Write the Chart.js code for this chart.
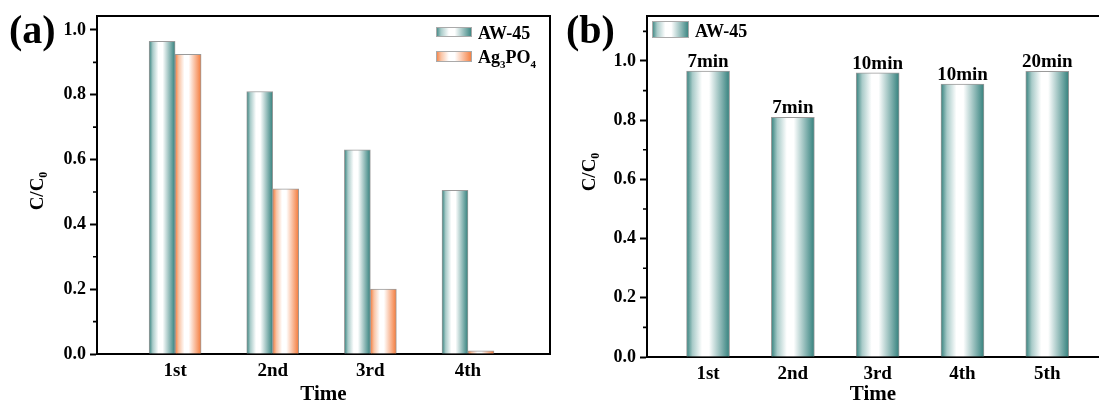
<!DOCTYPE html>
<html><head><meta charset="utf-8">
<script src="https://cdn.jsdelivr.net/npm/chart.js@4/dist/chart.umd.min.js"></script>
<style>
html,body{margin:0;padding:0;background:#fff;width:1099px;height:405px;overflow:hidden;}
#wa{position:absolute;left:0;top:0;width:560px;height:405px;}
#wb{position:absolute;left:560px;top:0;width:539px;height:405px;}
.pl{position:absolute;font:bold 40px "Liberation Serif","Times New Roman",serif;line-height:40px;color:#000;}
</style></head><body>
<div id="wa"><canvas id="ca"></canvas></div>
<div id="wb"><canvas id="cb"></canvas></div>
<div class="pl" style="left:9px;top:10px">(a)</div>
<div class="pl" style="left:566px;top:10px">(b)</div>
<script>
// ---- data ----
const catA = ['1st', '2nd', '3rd', '4th'];
const aw45A = [0.965, 0.81, 0.63, 0.505];
const agpoA = [0.925, 0.51, 0.20, 0.01];
const catB = ['1st', '2nd', '3rd', '4th', '5th'];
const aw45B = [0.966, 0.81, 0.96, 0.922, 0.965];
const timeB = ['7min', '7min', '10min', '10min', '20min'];
const yTicksA = [0, 0.2, 0.4, 0.6, 0.8, 1.0];
const yMinorA = [0.1, 0.3, 0.5, 0.7, 0.9];
const yTicksB = [0, 0.2, 0.4, 0.6, 0.8, 1.0];
const yMinorB = [0.1, 0.3, 0.5, 0.7, 0.9, 1.1];

const FONT = '"Liberation Serif","Times New Roman",serif';
const TEAL = '#34817d';
const TEAL_MID = '#a9cbc9';
const ORANGE = '#f47a3a';
const ORANGE_MID = '#f9c3a3';

function makeGrad(ctx, l, r, c, m) {
  const g = ctx.createLinearGradient(l, 0, r, 0);
  g.addColorStop(0, c);
  g.addColorStop(0.14, m);
  g.addColorStop(0.36, '#ffffff');
  g.addColorStop(0.52, '#ffffff');
  g.addColorStop(1, c);
  return g;
}

const gradPlugin = {
  id: 'grad',
  beforeDatasetsDraw(chart) {
    const ctx = chart.ctx;
    chart.data.datasets.forEach((ds, i) => {
      chart.getDatasetMeta(i).data.forEach(el => {
        const g = makeGrad(ctx, el.x - el.width / 2, el.x + el.width / 2, ds.edgeColor, ds.midColor);
        el.options = Object.assign({}, el.options, {backgroundColor: g});
      });
    });
  }
};

const decorPlugin = {
  id: 'decor',
  afterDraw(chart, args, o) {
    const ctx = chart.ctx, ca = chart.chartArea, ys = chart.scales.y;
    ctx.save();
    ctx.strokeStyle = '#000';
    ctx.lineWidth = 2;
    // frame
    ctx.beginPath();
    ctx.moveTo(ca.left, ca.top); ctx.lineTo(ca.right + (o.right ? 1 : 0), ca.top);
    if (o.right) { ctx.moveTo(ca.right, ca.top); ctx.lineTo(ca.right, ca.bottom); }
    ctx.stroke();
    // minor ticks
    ctx.lineWidth = 1.6;
    ctx.beginPath();
    o.minor.forEach(v => {
      const y = ys.getPixelForValue(v);
      ctx.moveTo(ca.left - 4, y); ctx.lineTo(ca.left, y);
    });
    ctx.stroke();
    // y title with subscript
    ctx.fillStyle = '#000';
    ctx.translate(o.ytX, o.ytY);
    ctx.rotate(-Math.PI / 2);
    ctx.textBaseline = 'middle';
    ctx.font = 'bold 19px ' + FONT;
    const w1 = ctx.measureText('C/C').width;
    ctx.font = 'bold 12px ' + FONT;
    const w2 = ctx.measureText('0').width;
    let x = -(w1 + w2) / 2;
    ctx.font = 'bold 19px ' + FONT;
    ctx.fillText('C/C', x, 0);
    ctx.font = 'bold 12px ' + FONT;
    ctx.fillText('0', x + w1, 6);
    ctx.restore();
    // legend
    ctx.save();
    o.legend.forEach(it => {
      ctx.fillStyle = makeGrad(ctx, it.x, it.x + it.w, it.color, it.mid);
      ctx.fillRect(it.x, it.y, it.w, it.h);
      ctx.strokeStyle = '#aaa';
      ctx.lineWidth = 1;
      ctx.strokeRect(it.x + 0.5, it.y + 0.5, it.w - 1, it.h - 1);
      ctx.fillStyle = '#000';
      ctx.textBaseline = 'alphabetic';
      let tx = it.tx;
      it.parts.forEach(p => {
        ctx.font = 'bold ' + (p.sub ? 11 : 18) + 'px ' + FONT;
        ctx.fillText(p.t, tx, it.ty + (p.sub ? 5 : 0));
        tx += ctx.measureText(p.t).width;
      });
    });
    ctx.restore();
    // value labels
    if (o.labels) {
      ctx.save();
      ctx.fillStyle = '#000';
      ctx.font = 'bold 19px ' + FONT;
      ctx.textAlign = 'center';
      ctx.textBaseline = 'alphabetic';
      chart.getDatasetMeta(0).data.forEach((el, i) => {
        ctx.fillText(o.labels[i], el.x, el.y - 4);
      });
      ctx.restore();
    }
  }
};

function makeChart(id, cats, datasets, cfg) {
  return new Chart(document.getElementById(id), {
    type: 'bar',
    data: {datasets: datasets.map(d => ({
      label: d.label,
      data: d.values.map((v, i) => ({x: i + 1, y: v})),
      edgeColor: d.color,
      midColor: d.mid,
      backgroundColor: d.color,
      borderColor: '#9a9a9a',
      borderWidth: 1,
      barThickness: cfg.barW,
      grouped: true
    }))},
    options: {
      responsive: true,
      maintainAspectRatio: false,
      animation: false,
      layout: {padding: {top: 16, right: cfg.padR, left: 0, bottom: 0}},
      plugins: {legend: {display: false}, tooltip: {enabled: false}, decor: cfg.decor},
      scales: {
        x: {
          type: 'linear', min: cfg.xMin, max: cfg.xMax, offset: false,
          afterBuildTicks: s => { s.ticks = cats.map((c, i) => ({value: i + 1})); },
          afterFit: s => { s.height = cfg.xH; },
          grid: {drawOnChartArea: false, drawTicks: false},
          border: {display: true, color: '#000', width: 2},
          ticks: {
            color: '#000', padding: 6, maxRotation: 0, autoSkip: false,
            font: {family: FONT, size: 19, weight: 'bold'},
            callback: v => cats[Math.round(v) - 1] || ''
          },
          title: {display: true, text: 'Time', color: '#000', padding: {top: 0, bottom: 0},
            font: {family: FONT, size: 21, weight: 'bold', lineHeight: 1}}
        },
        y: {
          min: 0, max: cfg.yMax,
          afterBuildTicks: s => { s.ticks = cfg.yTicks.map(v => ({value: v})); },
          afterFit: s => { s.width = cfg.yW; },
          grid: {drawOnChartArea: false, drawTicks: true, tickLength: 7, tickWidth: 2, tickColor: '#000'},
          border: {display: true, color: '#000', width: 2},
          ticks: {
            color: '#000', padding: 4,
            font: {family: FONT, size: 18, weight: 'bold'},
            callback: v => v.toFixed(1)
          }
        }
      }
    },
    plugins: [gradPlugin, decorPlugin]
  });
}

makeChart('ca', catA, [
  {label: 'AW-45', values: aw45A, color: TEAL, mid: TEAL_MID},
  {label: 'Ag3PO4', values: agpoA, color: ORANGE, mid: ORANGE_MID}
], {
  barW: 26, xMin: 0.2, xMax: 4.84, yMax: 1.043, yTicks: yTicksA, yW: 97, xH: 51, padR: 10,
  decor: {
    right: true, minor: yMinorA, ytX: 38, ytY: 191,
    legend: [
      {x: 436, y: 27, w: 36, h: 10, color: TEAL, mid: TEAL_MID, tx: 478, ty: 39, parts: [{t: 'AW-45'}]},
      {x: 436, y: 51, w: 36, h: 11, color: ORANGE, mid: ORANGE_MID, tx: 478, ty: 63,
        parts: [{t: 'Ag'}, {t: '3', sub: true}, {t: 'PO'}, {t: '4', sub: true}]}
    ]
  }
});

makeChart('cb', catB, [
  {label: 'AW-45', values: aw45B, color: TEAL, mid: TEAL_MID}
], {
  barW: 43, xMin: 0.28, xMax: 5.61, yMax: 1.152, yTicks: yTicksB, yW: 87, xH: 48, padR: 0,
  decor: {
    right: false, minor: yMinorB, ytX: 30, ytY: 172,
    labels: timeB,
    legend: [
      {x: 92, y: 21, w: 37, h: 17, color: TEAL, mid: TEAL_MID, tx: 135, ty: 37, parts: [{t: 'AW-45'}]}
    ]
  }
});
</script>
</body></html>
